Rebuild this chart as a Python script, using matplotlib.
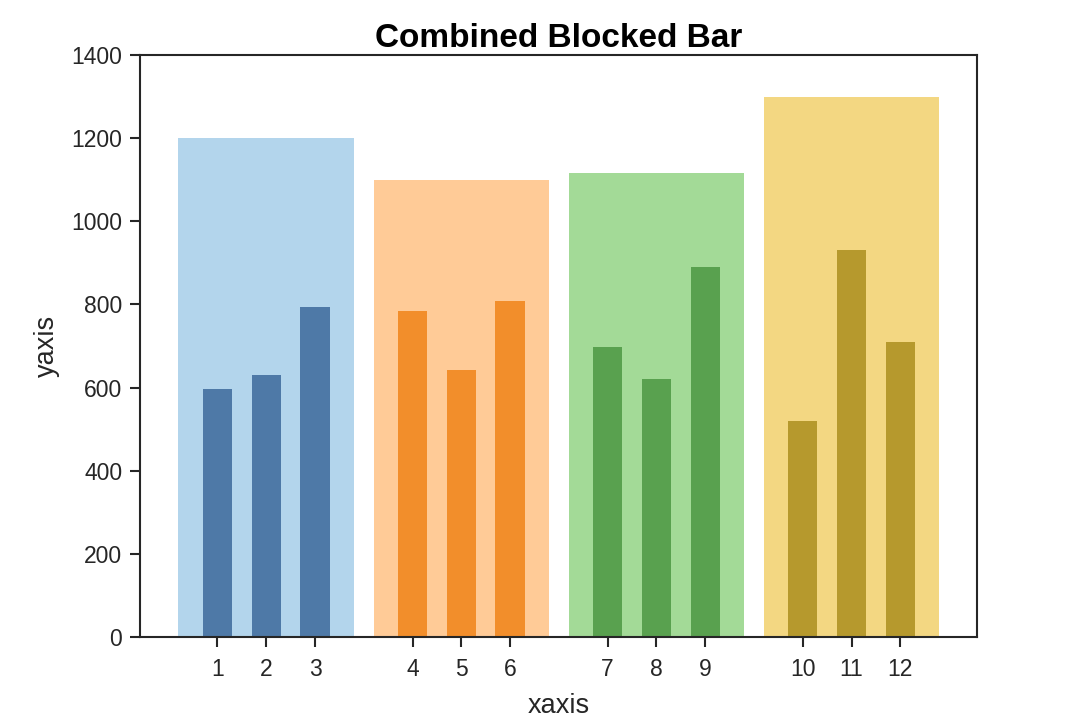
import numpy as np
import matplotlib
matplotlib.use("Agg")
import matplotlib.pyplot as plt

# data
group_totals = [1200, 1100, 1115, 1300]
bar_values = [
    [597, 630, 795],
    [783, 643, 808],
    [697, 620, 890],
    [520, 930, 710],
]
tick_labels = [str(i) for i in range(1, 13)]
light_colors = ['#a0cbe8', '#ffbe7d', '#8cd17d', '#f1ce63']
dark_colors = ['#4e79a7', '#f28e2b', '#59a14f', '#b6992d']

plt.rcParams['font.family'] = ['Liberation Sans', 'DejaVu Sans']
plt.rcParams['axes.edgecolor'] = '#262626'
plt.rcParams['xtick.color'] = '#262626'
plt.rcParams['ytick.color'] = '#262626'
plt.rcParams['text.color'] = '#262626'
plt.rcParams['axes.labelcolor'] = '#262626'

fig = plt.figure(figsize=(10.8, 7.2), dpi=100)
ax = fig.add_axes([0.13, 0.1153, 0.775, 0.8083])

positions = []
for g, (total, vals) in enumerate(zip(group_totals, bar_values)):
    x = np.arange(len(vals)) + g * (len(vals) + 1) + 1
    center = x.mean()
    # background block for the group, then the individual bars
    ax.bar(center, total, width=3.6, color=light_colors[g], alpha=0.8, zorder=1)
    ax.bar(x, vals, width=0.6, color=dark_colors[g], zorder=2)
    positions.extend(x)

ax.set_ylim(0, 1400)
ax.set_yticks(np.arange(0, 1401, 200))
ax.set_xticks(positions)
ax.set_xticklabels(tick_labels)
ax.tick_params(axis='both', direction='out', length=7, width=1.5, labelsize=16.5, pad=6)
ax.tick_params(axis='x', pad=8)
for s in ax.spines.values():
    s.set_linewidth(1.5)

ax.set_xlabel('xaxis', fontsize=19.5, labelpad=9)
ax.set_ylabel('yaxis', fontsize=19.5, labelpad=8)
ax.set_title('Combined Blocked Bar', fontsize=24, fontweight='bold', color='black', pad=6)

fig.savefig('out.png', dpi=100)
